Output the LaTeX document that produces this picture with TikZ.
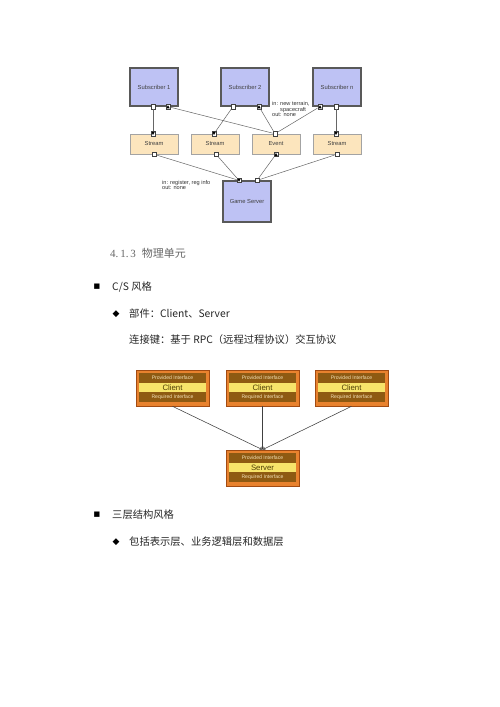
\documentclass[tikz,border=0pt]{standalone}
\usepackage{fontspec}
\setmainfont{Noto Sans CJK SC}
\newfontfamily\diagfont{Liberation Sans}
\newfontfamily\headfont{Liberation Serif}
\newfontfamily\symfont{DejaVu Sans}
\usetikzlibrary{arrows.meta,positioning}

\definecolor{subfill}{HTML}{BEC2F4}
\definecolor{subdraw}{HTML}{595959}
\definecolor{strfill}{HTML}{FCE5BD}
\definecolor{strdraw}{HTML}{A3A3A3}
\definecolor{ifout}{HTML}{E8822E}
\definecolor{ifedge}{HTML}{A24B12}
\definecolor{ifband}{HTML}{8E5A12}
\definecolor{ifbandtxt}{HTML}{F4E3B8}
\definecolor{ifname}{HTML}{F7E46A}
\definecolor{ifnametxt}{HTML}{4E3E06}

\tikzset{
  sub/.style={draw=subdraw, line width=1.2pt, fill=subfill, minimum width=48pt,
    minimum height=38pt, inner sep=0pt, text=black!75,
    font=\diagfont\fontsize{5.8}{6}\selectfont},
  stream/.style={draw=strdraw, line width=0.5pt, fill=strfill, minimum width=48pt,
    minimum height=20pt, inner sep=0pt, text=black!75,
    font=\diagfont\fontsize{5.8}{6}\selectfont},
  port/.style={draw=black!75, line width=0.4pt, fill=white, minimum size=4.5pt, inner sep=0pt},
  portdown/.style={port, path picture={\fill[black]
    ([shift={(0.6pt,-0.6pt)}]path picture bounding box.north west) --
    ([shift={(-0.6pt,-0.6pt)}]path picture bounding box.north east) --
    ([yshift=0.9pt]path picture bounding box.south) -- cycle;}},
  portup/.style={port, path picture={\fill[black]
    ([shift={(0.6pt,0.6pt)}]path picture bounding box.south west) --
    ([shift={(-0.6pt,0.6pt)}]path picture bounding box.south east) --
    ([yshift=-0.9pt]path picture bounding box.north) -- cycle;}},
  link/.style={draw=black!60, line width=0.5pt},
  note/.style={align=left, inner sep=0pt, text=black!80,
    font=\diagfont\fontsize{5.6}{5.6}\selectfont},
  ifbox/.style={draw=ifedge, fill=ifout, line width=0.6pt, minimum width=73pt,
    minimum height=36pt, inner sep=0pt},
  ifband/.style={fill=ifband, minimum width=67pt, minimum height=10pt, inner sep=0pt,
    text=ifbandtxt, font=\diagfont\fontsize{5.1}{5}\selectfont},
  ifmid/.style={fill=ifname, minimum width=67pt, minimum height=9pt, inner sep=0pt,
    text=ifnametxt, font=\diagfont\fontsize{7.8}{7.8}\selectfont},
  rpc/.style={draw=black!75, line width=0.55pt, -{Stealth[length=3pt,width=2.6pt]}},
  bul/.style={inner sep=0pt, text=black, font=\symfont\fontsize{7}{7}\selectfont},
  dia/.style={inner sep=0pt, text=black, font=\symfont\fontsize{9}{9}\selectfont},
  item/.style={anchor=west, inner sep=0pt, text=black!85, font=\fontsize{10.3}{12}\selectfont},
}

\begin{document}
\begin{tikzpicture}[x=1pt, y=-1pt]
  \useasboundingbox[fill=white] (0,0) rectangle (500,707);

  % game components
  \node[sub] (sub1) at (154,87) {Subscriber 1};
  \node[sub] (sub2) at (245,87) {Subscriber 2};
  \node[sub] (subn) at (337,87) {Subscriber n};
  \node[stream] (str1) at (154,144) {Stream};
  \node[stream] (str2) at (215,144) {Stream};
  \node[stream] (evt) at (276,144) {Event};
  \node[stream] (str3) at (337,144) {Stream};
  \node[sub, minimum height=41pt] (gsrv) at (247,201.5) {Game Server};

  % ports
  \node[port] (s1a) at ([xshift=-1pt]sub1.south) {};
  \node[portup] (s1b) at ([xshift=14pt]sub1.south) {};
  \node[port] (s2a) at ([xshift=-12pt]sub2.south) {};
  \node[portup] (s2b) at ([xshift=14pt]sub2.south) {};
  \node[portup] (sna) at ([xshift=-17pt]subn.south) {};
  \node[port] (snb) at ([xshift=-1pt]subn.south) {};
  \node[portdown] (t1) at ([xshift=-1pt]str1.north) {};
  \node[portdown] (t2) at ([xshift=-1pt]str2.north) {};
  \node[port] (et) at ([xshift=-1pt]evt.north) {};
  \node[portdown] (t3) at ([xshift=-1pt]str3.north) {};
  \node[port] (b1) at (str1.south) {};
  \node[port] (b2) at ([xshift=1pt]str2.south) {};
  \node[portup] (eb) at (evt.south) {};
  \node[port] (b3) at (str3.south) {};
  \node[portdown] (g1) at ([xshift=-8pt]gsrv.north) {};
  \node[port] (g2) at ([xshift=10pt]gsrv.north) {};

  \draw[link] (s1a) -- (t1);
  \draw[link] (s1b) -- (et);
  \draw[link] (s2a) -- (t2);
  \draw[link] (s2b) -- (et);
  \draw[link] (sna) -- (et);
  \draw[link] (snb) -- (t3);
  \draw[link] (b1) -- (g1);
  \draw[link] (b2) -- (g1);
  \draw[link] (eb) -- (g2);
  \draw[link] (b3) -- (g2);

  \node[note, anchor=north west] (n1) at (272,101.5) {in: new terrain,\\\hspace*{8pt}spacecraft\\out: none};
  \node[note, anchor=north west] (n2) at (162,180) {in: register, reg info\\out: none};

  % text lines
  \node[anchor=west, inner sep=0pt, text=black!60, font=\fontsize{11}{12}\selectfont] (sec) at (110,253)
    {{\headfont 4.\,1.\,3}\hspace{6pt}物理单元};
  \node[bul] (q1) at (97,287) {■};
  \node[item] (cs) at (112,287) {C/S 风格};
  \node[dia] (d1) at (116,314) {◆};
  \node[item] (parts) at (129,314) {部件：Client、Server};
  \node[item] (conn) at (129,340) {连接键：基于 RPC（远程过程协议）交互协议};

  % client / server boxes
  \foreach \n/\x/\y/\lbl in {cl1/172.5/388/Client, cl2/262.5/388/Client, cl3/351.5/388/Client, srv/262.5/468/Server}{
    \node[ifbox] (\n) at (\x,\y) {};
    \node[ifband] (\n-p) at ([yshift=10pt]\n.center) {Provided Interface};
    \node[ifmid] (\n-m) at ([yshift=0.5pt]\n.center) {\lbl};
    \node[ifband] (\n-r) at ([yshift=-9pt]\n.center) {Required Interface};
  }
  \foreach \n in {cl1,cl2,cl3}
    \draw[rpc] (\n.south) -- (srv.north);

  \node[bul] (q2) at (97,515) {■};
  \node[item] (tier) at (112,515) {三层结构风格};
  \node[dia] (d2) at (116,542) {◆};
  \node[item] (layers) at (129,542) {包括表示层、业务逻辑层和数据层};
\end{tikzpicture}
\end{document}
